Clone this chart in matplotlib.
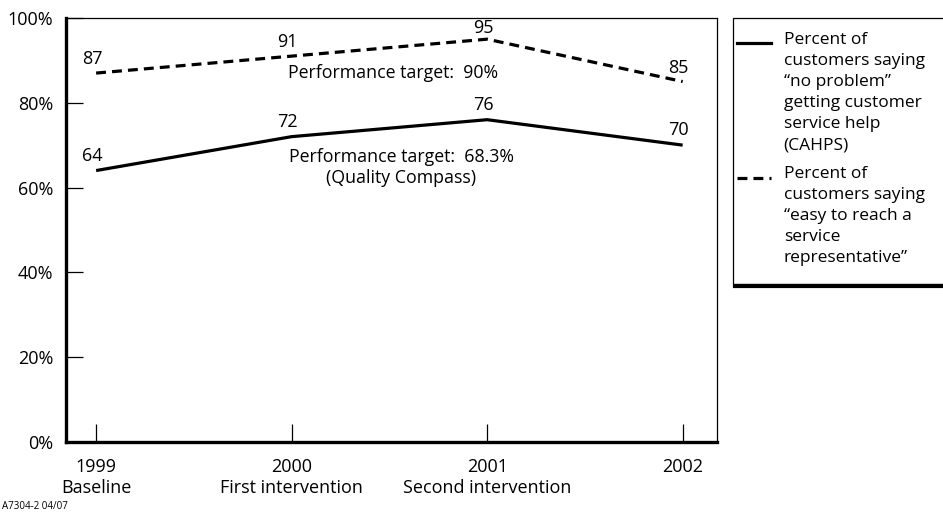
import matplotlib
matplotlib.use("Agg")
import matplotlib.pyplot as plt
from matplotlib.lines import Line2D
from matplotlib.patches import Rectangle

plt.rcParams['font.family'] = ['Open Sans', 'DejaVu Sans']

years = ["1999", "2000", "2001", "2002"]
phases = ["Baseline", "First intervention", "Second intervention", ""]
no_problem = [64, 72, 76, 70]
easy_reach = [87, 91, 95, 85]
yticks = [0, 20, 40, 60, 80, 100]
legend_labels = [
    "Percent of\ncustomers saying\n\u201cno problem\u201d\ngetting customer\nservice help\n(CAHPS)",
    "Percent of\ncustomers saying\n\u201ceasy to reach a\nservice\nrepresentative\u201d",
]

fig = plt.figure(figsize=(9.43, 5.21), dpi=100)
ax = fig.add_axes([0.070, 0.152, 0.690, 0.8135])

x = list(range(len(years)))
ax.plot(x, no_problem, color="black", lw=2.3, solid_capstyle="butt")
ax.plot(x, easy_reach, color="black", lw=2.3, dashes=(3.1, 1.9))

for xi, v in zip(x, no_problem):
    ax.text(xi - 0.02, v + 3.5, str(v), ha="center", va="center", fontsize=13)
for xi, v in zip(x, easy_reach):
    ax.text(xi - 0.02, v + 3.3 if v < 95 else v + 2.6, str(v), ha="center",
            va="center", fontsize=13)

ax.text(1.52, 87.0, "Performance target:  90%", ha="center", va="center", fontsize=12.8)
ax.text(1.56, 64.8, "Performance target:  68.3%\n(Quality Compass)", ha="center",
        va="center", fontsize=12.8, linespacing=1.2)

ax.set_xlim(-0.154, 3.174)
ax.set_ylim(0, 100)
ax.set_yticks(yticks)
ax.set_yticklabels([f"{t}%" for t in yticks], fontsize=13)
ax.set_xticks(x)
ax.set_xticklabels([f"{y}\n{p}" if p else y for y, p in zip(years, phases)],
                   fontsize=13, linespacing=1.2)
ax.tick_params(axis="y", direction="in", length=12, width=0.9, pad=9)
ax.tick_params(axis="x", direction="in", length=13, width=0.9, pad=12)
for lbl in ax.get_xticklabels():
    lbl.set_verticalalignment("top")

for s in ["left", "bottom"]:
    ax.spines[s].set_linewidth(2.4)
for s in ["top", "right"]:
    ax.spines[s].set_linewidth(0.9)

# legend box
fig.add_artist(Rectangle((0.777, 0.455), 0.25, 0.5105, transform=fig.transFigure,
                         facecolor="white", edgecolor="black", lw=0.9))
fig.add_artist(Line2D([0.779, 1.0], [0.452, 0.452], transform=fig.transFigure,
                      color="black", lw=3))
styles = [dict(), dict(dashes=(3.1, 1.9))]
tops = [0.930, 0.674]
handle_y = [0.918, 0.659]
for lab, st, top, hy in zip(legend_labels, styles, tops, handle_y):
    fig.add_artist(Line2D([0.782, 0.818], [hy, hy],
                          transform=fig.transFigure, color="black", lw=2.3, **st))
    fig.text(0.831, top + 0.008, lab, ha="left", va="top", fontsize=12.5, linespacing=1.42)

fig.text(0.002, 0.018, "A7304-2 04/07", fontsize=7, ha="left", va="bottom")

fig.savefig("out.png", dpi=100)
